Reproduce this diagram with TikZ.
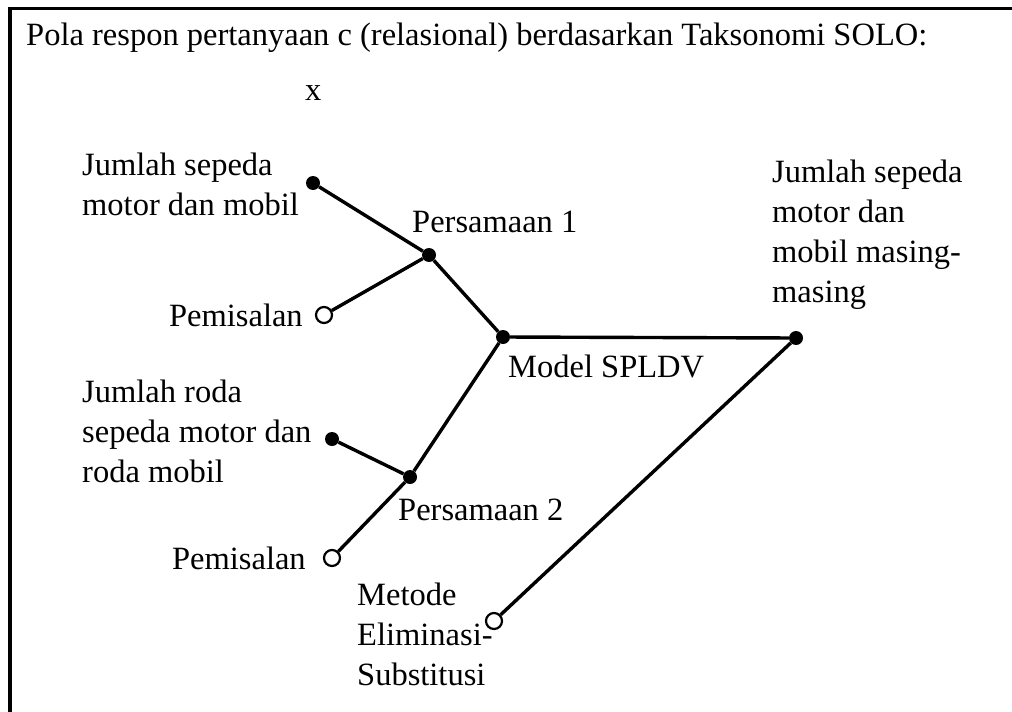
\documentclass[tikz,border=0pt]{standalone}
\usepackage{fontspec}
\setmainfont{Liberation Serif}
\usepackage{tikz}
\usetikzlibrary{positioning}

\begin{document}
\begin{tikzpicture}[x=1pt,y=-1pt,font=\fontsize{32.5}{40}\selectfont,
    dot/.style={circle,fill,inner sep=0pt,minimum size=14pt},
    odot/.style={circle,draw,fill=white,line width=2.2pt,inner sep=0pt,minimum size=16pt},
    lbl/.style={inner sep=0pt,align=left,anchor=base west},
    link/.style={line width=3.4pt}]
  \useasboundingbox (0,0) rectangle (1012,712);
  \draw[line width=3.5pt] (10,730) -- (10,8.5) -- (1030,8.5);
  \node[lbl] (title) at (26,45) {Pola respon pertanyaan c (relasional) berdasarkan Taksonomi SOLO:};
  \node[lbl] (x) at (305,100) {x};
  \node[dot] (jsm) at (313,183) {};
  \node[dot] (pers1) at (429,255) {};
  \node[odot] (pem1) at (324,315) {};
  \node[dot] (model) at (503,337) {};
  \node[dot] (hasil) at (796,338) {};
  \node[dot] (jroda) at (332,439) {};
  \node[dot] (pers2) at (410,477) {};
  \node[odot] (pem2) at (332,558) {};
  \node[odot] (metode) at (494,621) {};
  \draw[link] (jsm) -- (pers1) -- (model) -- (hasil) -- (metode);
  \draw[link] (pem1) -- (pers1);
  \draw[link] (model) -- (pers2) -- (jroda);
  \draw[link] (pem2) -- (pers2);
  % multi-line labels: base is the last line
  \node[lbl] (tjsm) at (82,215) {Jumlah sepeda\\motor dan mobil};
  \node[lbl] (tpers1) at (412,232) {Persamaan 1};
  \node[inner sep=0pt,left=12pt of pem1] (tpem1) {Pemisalan};
  \node[lbl] (tmodel) at (508,377) {Model SPLDV};
  \node[lbl] (thasil) at (772,302) {Jumlah sepeda\\motor dan\\mobil masing-\\masing};
  \node[lbl] (tjroda) at (82,482) {Jumlah roda\\sepeda motor dan\\roda mobil};
  \node[lbl] (tpers2) at (398,520) {Persamaan 2};
  \node[inner sep=0pt,left=17pt of pem2] (tpem2) {Pemisalan};
  \node[lbl] (tmetode) at (357,685) {Metode\\Eliminasi-\\Substitusi};
\end{tikzpicture}
\end{document}
